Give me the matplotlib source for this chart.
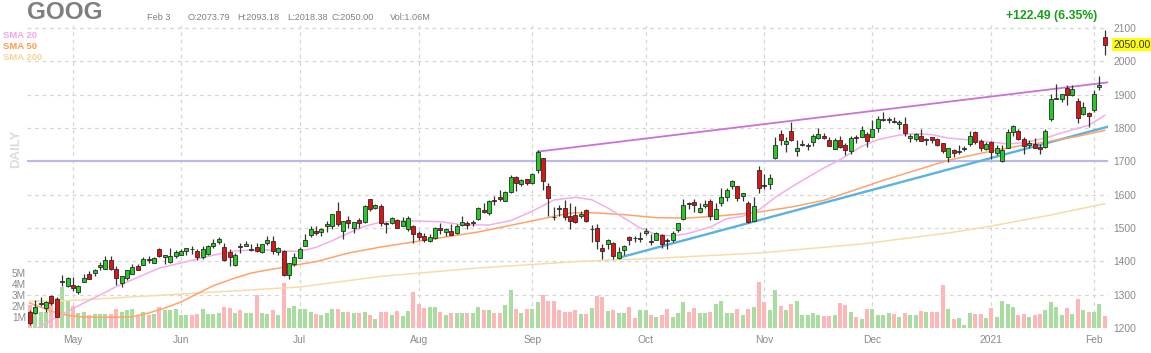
import matplotlib
matplotlib.use('Agg')
import matplotlib.pyplot as plt
import numpy as np
import pandas as pd

plt.rcParams['font.family'] = ['Liberation Sans', 'DejaVu Sans']

# ---------------- data ----------------
ticker = "GOOG"
holidays = ['2020-05-25', '2020-07-03', '2020-09-07', '2020-11-26',
            '2020-12-25', '2021-01-01', '2021-01-18']

opens = [
    1247, 1245, 1271, 1261, 1296, 1288, 1337, 1325, 1329, 1308,
    1337, 1361, 1365, 1383, 1378, 1405, 1377, 1336, 1351, 1362,
    1386, 1390, 1408, 1396, 1437, 1412, 1397, 1416, 1418, 1430,
    1438, 1431, 1413, 1423, 1445, 1459, 1442, 1428, 1390, 1446,
    1447, 1433, 1444, 1429, 1455, 1462, 1429, 1431, 1359, 1391,
    1411, 1447, 1480, 1492, 1489, 1506, 1506, 1550, 1490, 1524,
    1500, 1523, 1519, 1586, 1560, 1567, 1515, 1516, 1525, 1507,
    1497, 1505, 1486, 1476, 1462, 1471, 1500, 1487, 1492, 1485,
    1510, 1515, 1515, 1526, 1553, 1544, 1583, 1594, 1582, 1608,
    1653, 1633, 1647, 1636, 1673, 1709, 1625, 1533, 1558, 1560,
    1536, 1539, 1536, 1555, 1496, 1499, 1441, 1451, 1455, 1411,
    1433, 1474, 1471, 1466, 1484, 1462, 1464, 1479, 1465, 1465,
    1495, 1528, 1575, 1578, 1547, 1566, 1581, 1527, 1574, 1593,
    1626, 1625, 1596, 1575, 1522, 1673, 1628, 1631, 1710, 1781,
    1753, 1790, 1731, 1750, 1747, 1757, 1771, 1776, 1765, 1738,
    1765, 1749, 1730, 1773, 1773, 1781, 1774, 1799, 1824, 1824,
    1820, 1811, 1813, 1769, 1766, 1775, 1764, 1772, 1768, 1754,
    1713, 1735, 1728, 1736, 1752, 1787, 1762, 1736, 1758, 1724,
    1702, 1741, 1788, 1792, 1766, 1748, 1753, 1744, 1742, 1826,
    1888, 1886, 1920, 1899, 1882, 1843, 1846, 1854, 1922, 2073.79]

highs = [
    1254, 1285, 1294, 1280, 1300, 1294, 1360, 1352, 1352, 1328,
    1363, 1371, 1377, 1398, 1416, 1416, 1385, 1357, 1375, 1393,
    1392, 1413, 1415, 1414, 1441, 1420, 1441, 1433, 1438, 1439,
    1447, 1438, 1446, 1449, 1467, 1474, 1455, 1437, 1425, 1455,
    1460, 1452, 1455, 1452, 1476, 1476, 1442, 1433, 1395, 1424,
    1444, 1482, 1506, 1506, 1499, 1522, 1542, 1577, 1522, 1535,
    1519, 1530, 1570, 1586, 1572, 1572, 1518, 1532, 1526, 1532,
    1537, 1508, 1491, 1485, 1482, 1502, 1516, 1500, 1511, 1512,
    1537, 1521, 1525, 1563, 1574, 1585, 1597, 1614, 1612, 1660,
    1656, 1648, 1647, 1665, 1733, 1709, 1634, 1563, 1570, 1585,
    1575, 1565, 1551, 1557, 1508, 1512, 1452, 1467, 1457, 1443,
    1450, 1476, 1475, 1489, 1500, 1483, 1488, 1481, 1469, 1490,
    1516, 1587, 1579, 1588, 1575, 1583, 1588, 1576, 1619, 1621,
    1643, 1626, 1606, 1581, 1594, 1687, 1661, 1661, 1772, 1794,
    1773, 1818, 1763, 1764, 1754, 1781, 1800, 1785, 1774, 1770,
    1775, 1754, 1776, 1778, 1805, 1789, 1825, 1835, 1848, 1833,
    1832, 1823, 1834, 1782, 1785, 1798, 1771, 1774, 1770, 1754,
    1740, 1737, 1748, 1746, 1790, 1792, 1766, 1758, 1760, 1748,
    1748, 1796, 1810, 1796, 1774, 1765, 1770, 1752, 1798, 1901,
    1933, 1903, 1928, 1930, 1891, 1879, 1848, 1915, 1955, 2093.18]

lows = [
    1209, 1242, 1265, 1249, 1269, 1232, 1326, 1322, 1311, 1302,
    1337, 1347, 1355, 1375, 1377, 1375, 1328, 1323, 1344, 1362,
    1373, 1388, 1394, 1395, 1413, 1391, 1394, 1410, 1418, 1418,
    1422, 1405, 1407, 1418, 1439, 1452, 1402, 1386, 1387, 1425,
    1445, 1432, 1428, 1424, 1450, 1423, 1420, 1355, 1348, 1387,
    1410, 1446, 1472, 1480, 1476, 1489, 1497, 1505, 1468, 1499,
    1484, 1500, 1515, 1550, 1557, 1505, 1486, 1512, 1499, 1505,
    1492, 1455, 1464, 1459, 1458, 1466, 1482, 1475, 1478, 1481,
    1506, 1497, 1507, 1525, 1544, 1540, 1568, 1580, 1582, 1606,
    1612, 1627, 1630, 1633, 1666, 1615, 1537, 1525, 1537, 1523,
    1498, 1516, 1529, 1518, 1459, 1437, 1406, 1437, 1408, 1406,
    1418, 1449, 1458, 1459, 1478, 1450, 1464, 1439, 1437, 1458,
    1489, 1523, 1557, 1547, 1545, 1559, 1523, 1527, 1567, 1581,
    1616, 1581, 1582, 1515, 1522, 1604, 1616, 1616, 1706, 1750,
    1729, 1760, 1717, 1747, 1734, 1745, 1767, 1767, 1746, 1737,
    1741, 1720, 1722, 1756, 1772, 1742, 1773, 1788, 1822, 1816,
    1814, 1796, 1775, 1758, 1762, 1760, 1749, 1756, 1745, 1725,
    1699, 1713, 1722, 1730, 1746, 1753, 1732, 1733, 1707, 1720,
    1697, 1741, 1777, 1764, 1722, 1740, 1740, 1722, 1740, 1822,
    1887, 1877, 1868, 1897, 1815, 1839, 1802, 1847, 1914, 2018.38]

closes = [
    1216, 1263, 1276, 1279, 1276, 1234, 1341, 1349, 1321, 1327,
    1351, 1347, 1373, 1388, 1403, 1376, 1349, 1356, 1373, 1384,
    1373, 1407, 1403, 1410, 1417, 1418, 1417, 1429, 1432, 1439,
    1436, 1412, 1438, 1447, 1456, 1466, 1404, 1413, 1420, 1443,
    1451, 1436, 1432, 1452, 1464, 1432, 1441, 1360, 1395, 1414,
    1438, 1465, 1496, 1485, 1496, 1511, 1542, 1511, 1521, 1514,
    1518, 1516, 1566, 1558, 1568, 1516, 1512, 1530, 1500, 1522,
    1531, 1483, 1474, 1465, 1474, 1500, 1494, 1496, 1480, 1507,
    1518, 1508, 1518, 1559, 1548, 1582, 1580, 1588, 1608, 1652,
    1634, 1644, 1634, 1661, 1728, 1642, 1591, 1532, 1557, 1532,
    1521, 1519, 1541, 1521, 1496, 1460, 1431, 1465, 1415, 1428,
    1445, 1465, 1469, 1470, 1490, 1458, 1486, 1453, 1460, 1486,
    1515, 1569, 1572, 1568, 1559, 1573, 1535, 1556, 1593, 1615,
    1641, 1590, 1604, 1517, 1567, 1621, 1626, 1650, 1749, 1763,
    1762, 1763, 1740, 1753, 1750, 1777, 1781, 1770, 1747, 1764,
    1742, 1735, 1769, 1771, 1793, 1761, 1798, 1828, 1827, 1828,
    1819, 1819, 1784, 1775, 1782, 1760, 1768, 1763, 1748, 1731,
    1739, 1724, 1732, 1739, 1776, 1759, 1740, 1752, 1728, 1741,
    1735, 1787, 1807, 1767, 1747, 1754, 1740, 1736, 1791, 1887,
    1891, 1901, 1899, 1917, 1831, 1863, 1836, 1901, 1928, 2050.00]

volumes_m = [
    2.1, 1.8, 1.5, 1.5, 2.9, 2.7, 3.7, 2.5, 2.0, 1.4,
    1.5, 1.2, 1.3, 1.3, 1.3, 1.3, 1.7, 1.5, 1.6, 1.7,
    1.1, 1.5, 1.2, 1.3, 1.9, 1.6, 1.6, 1.7, 1.2, 1.2,
    1.2, 1.3, 1.7, 1.3, 1.3, 1.4, 1.9, 1.8, 1.4, 1.6,
    1.4, 1.4, 3.0, 1.4, 1.3, 1.6, 1.2, 4.1, 1.8, 2.0,
    1.7, 1.7, 1.5, 1.3, 1.2, 1.35, 1.7, 1.7, 1.5, 1.5,
    1.4, 1.35, 1.5, 1.2, 0.8, 1.5, 1.5, 1.2, 1.55, 1.05,
    1.55, 3.3, 2.2, 1.8, 1.95, 1.95, 1.5, 1.2, 1.35, 1.35,
    1.35, 1.35, 1.35, 1.9, 1.6, 1.6, 1.35, 1.35, 2.1, 3.5,
    1.7, 1.4, 1.7, 1.7, 2.4, 3.0, 2.5, 2.5, 1.65, 1.5,
    1.5, 1.6, 1.25, 1.25, 1.8, 2.9, 2.8, 1.55, 1.6, 1.35,
    1.35, 1.9, 0.9, 1.6, 1.6, 1.2, 1.0, 1.2, 1.7, 1.0,
    1.35, 2.4, 1.5, 1.8, 1.4, 1.4, 1.5, 2.2, 2.5, 1.35,
    1.35, 1.7, 1.2, 1.7, 1.9, 4.2, 2.4, 1.6, 3.5, 2.0,
    1.6, 2.2, 2.5, 1.2, 1.2, 1.4, 1.2, 1.1, 1.1, 1.2,
    2.25, 2.1, 1.5, 1.0, 0.8, 1.7, 1.7, 1.2, 1.2, 1.35,
    1.3, 1.0, 1.35, 1.2, 1.2, 1.55, 1.45, 1.45, 1.45, 3.9,
    1.7, 0.8, 0.9, 0.3, 1.35, 1.25, 1.25, 0.9, 1.8, 1.0,
    2.45, 2.15, 1.95, 1.2, 1.25, 1.0, 1.2, 1.25, 1.65, 2.4,
    1.95, 1.2, 1.8, 1.25, 2.65, 1.6, 1.5, 1.5, 2.15, 1.06]

# moving averages (trading-day index, value)
sma20_idx = [0, 3, 7, 10, 13, 16, 20, 24, 28, 32, 35, 38, 41, 44, 47, 50, 53, 56,
             59, 62, 65, 68, 71, 76, 80, 85, 89, 93, 97, 101, 104, 107, 110, 113,
             116, 119, 122, 126, 129, 132, 135, 138, 141, 144, 147, 150, 154, 157,
             161, 164, 167, 170, 174, 178, 181, 184, 188, 192, 196, 199]
sma20_val = [1185, 1215, 1250, 1275, 1299, 1324, 1352, 1380, 1395, 1411, 1422, 1431,
             1434, 1434, 1431, 1430, 1442, 1462, 1485, 1505, 1518, 1521, 1521, 1519,
             1510, 1509, 1522, 1550, 1584, 1592, 1585, 1560, 1530, 1500, 1480, 1476,
             1484, 1503, 1528, 1535, 1555, 1592, 1623, 1652, 1680, 1705, 1745, 1765,
             1779, 1783, 1780, 1770, 1764, 1758, 1752, 1756, 1770, 1790, 1808, 1838]
sma50_idx = [0, 4, 7, 10, 16, 19, 22, 25, 28, 31, 34, 38, 41, 44, 47, 50, 53, 59, 65,
             71, 77, 83, 89, 95, 100, 104, 110, 116, 122, 129, 135, 141, 147, 152,
             158, 164, 170, 176, 182, 188, 194, 199]
sma50_val = [1275, 1250, 1238, 1233, 1232, 1234, 1245, 1260, 1278, 1303, 1327, 1350,
             1365, 1374, 1382, 1391, 1399, 1425, 1443, 1458, 1473, 1488, 1508, 1528,
             1545, 1546, 1540, 1531, 1530, 1538, 1548, 1563, 1583, 1610, 1643, 1673,
             1703, 1724, 1743, 1758, 1775, 1793]
sma200_idx = [0, 7, 25, 50, 65, 83, 102, 117, 135, 154, 170, 177, 189, 199]
sma200_val = [1280, 1282, 1299, 1323, 1355, 1380, 1400, 1410, 1425, 1452, 1485,
              1503, 1539, 1573]

# drawn lines: resistance, support (index, price) and the horizontal level
resist_idx = [94, 199.6]
resist_val = [1729, 1937]
support_idx = [109.6, 199.6]
support_val = [1413, 1804]
level_price = 1700

month_labels = ["May", "Jun", "Jul", "Aug", "Sep", "Oct", "Nov", "Dec", "2021", "Feb"]
price_ticks = [1200, 1300, 1400, 1500, 1600, 1700, 1800, 1900, 2000, 2100]
vol_ticks = [1, 2, 3, 4, 5]
vol_tick_labels = ["1M", "2M", "3M", "4M", "5M"]

header_date = "Feb 3"
header_ohlc = ["O:2073.79", "H:2093.18", "L:2018.38", "C:2050.00"]
header_vol = "Vol:1.06M"
change_text = "+122.49 (6.35%)"
last_label = "2050.00"

# ---------------- figure ----------------
dates = pd.bdate_range('2020-04-21', '2021-02-03')
dates = dates[~dates.isin(pd.to_datetime(holidays))]
x = np.arange(len(dates))
o = np.array(opens); h = np.array(highs); l = np.array(lows); c = np.array(closes)
v = np.array(volumes_m)

W, H = 1151, 353
fig = plt.figure(figsize=(W / 100, H / 100), dpi=100)
Lp, Rp, Bp, Tp = 26.8, 1108.0, 328.0, 25.0
ax_v = fig.add_axes([Lp / W, (H - Bp) / H, (Rp - Lp) / W, (Bp - Tp) / H])
ax_p = ax_v.twinx()

ax_v.set_xlim(-0.55, 199.6)
ax_p.set_ylim(1200, 1200 + (Bp - Tp) * 3.0)
ax_v.set_ylim(0, (Bp - Tp) / 11.0)

for a in (ax_v, ax_p):
    for s in a.spines.values():
        s.set_visible(False)

grid_c = '#d6d6d6'
# vertical month grid + ticks
is_new_month = np.r_[False, dates.month[1:] != dates.month[:-1]]
month_pos = x[is_new_month]
ax_v.set_xticks(month_pos)
ax_v.set_xticklabels(month_labels[:len(month_pos)])
ax_v.tick_params(axis='x', length=0, pad=5, labelsize=7.4, labelcolor='#8a8a8a')
for mp in month_pos:
    ax_v.axvline(mp, color=grid_c, lw=0.9, ls=(0, (3, 3)), zorder=0)

# volume
up = c >= o
vcol = np.where(up, '#a9dd9f', '#ffb6b6')
ax_v.bar(x, v, width=0.74, color=vcol, linewidth=0, zorder=2)
ax_v.set_yticks(vol_ticks)
ax_v.set_yticklabels(vol_tick_labels)
ax_v.tick_params(axis='y', length=0, pad=0.6, labelsize=7.2, labelcolor='#8a8a8a')

# price grid
for p in price_ticks:
    ax_p.axhline(p, color=grid_c, lw=0.9, ls=(0, (3, 3)), zorder=0)
ax_p.set_yticks(price_ticks)
ax_p.tick_params(axis='y', length=0, pad=3.6, labelsize=7.4, labelcolor='#8a8a8a')

# horizontal level and trendlines
ax_p.axhline(level_price, color='#b8b8ec', lw=1.5, zorder=2)
ax_p.plot(resist_idx, resist_val, color='#cc70d8', lw=1.3, zorder=2)
ax_p.plot(support_idx, support_val, color='#5ab2e2', lw=1.7, zorder=2)

# moving averages
ax_p.plot(sma200_idx, sma200_val, color='#f8dca8', lw=1.1, zorder=2)
ax_p.plot(sma50_idx, sma50_val, color='#ffa466', lw=1.1, zorder=2)
ax_p.plot(sma20_idx, sma20_val, color='#f3aee9', lw=1.1, zorder=2)

# candles
ax_p.vlines(x, l, h, color='#333333', lw=0.9, zorder=3)
body_col = np.where(up, '#22cc22', '#e31212')
ax_p.bar(x, np.maximum(np.abs(c - o), 1.6), bottom=np.minimum(o, c), width=0.74,
         color=body_col, edgecolor='#2a2a2a', linewidth=0.6, zorder=4)

# last price tag
ax_p.annotate(last_label, xy=(1.0, closes[-1]), xycoords=('axes fraction', 'data'),
              xytext=(5, 0), textcoords='offset pixels', ha='left', va='center',
              fontsize=7.4, color='#333333',
              bbox=dict(boxstyle='square,pad=0.12', fc='#ffff00', ec='none'))

# header texts (pixel coordinates)
def ftext(px, py, s, **kw):
    fig.text(px / W, 1 - py / H, s, va='center', **kw)

ftext(27, 12.5, ticker, fontsize=17.5, fontweight='bold', color='#7f7f7f')
ftext(147, 17, header_date, fontsize=6.6, color='#808080')
for px, s in zip([188, 237, 287, 331], header_ohlc):
    ftext(px, 17, s, fontsize=6.6, color='#808080')
ftext(390, 17, header_vol, fontsize=6.6, color='#808080')
fig.text(1097 / W, 1 - 16 / H, change_text, ha='right', va='center',
         fontsize=8.8, fontweight='bold', color='#14a014')

ftext(3, 35, "SMA 20", fontsize=6.8, fontweight='bold', color='#f2a6e6')
ftext(3, 46.5, "SMA 50", fontsize=6.8, fontweight='bold', color='#ff9d4d')
ftext(3, 58, "SMA 200", fontsize=6.8, fontweight='bold', color='#f6d596')
fig.text(16.5 / W, 1 - 149 / H, "DAILY", rotation=90, ha='center', va='center',
         fontsize=9.5, fontweight='bold', color='#dcdcdc')

fig.savefig('out.png', dpi=100)
